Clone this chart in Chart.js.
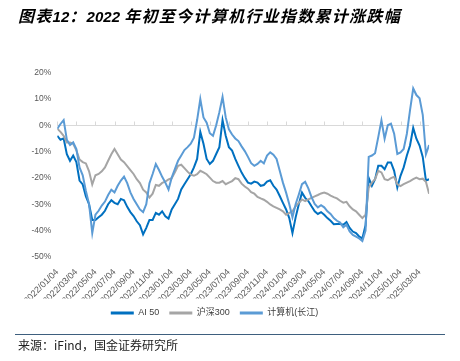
<!DOCTYPE html>
<html>
<head>
<meta charset="utf-8">
<script src="https://cdn.jsdelivr.net/npm/chart.js@4.4.1/dist/chart.umd.min.js"></script>
<style>
  html, body { margin: 0; padding: 0; background: #fff; }
  #wrap { position: relative; width: 460px; height: 361px; overflow: hidden; }
  #chart { position: absolute; left: 0; top: 0; }
  .title { position: absolute; left: 18px; top: 3px; font: italic bold 16px "Liberation Sans", "Noto Sans CJK SC", sans-serif; letter-spacing: 1.3px; color: #000; white-space: nowrap; }
  .title .n { font-size: 15px; letter-spacing: 0; }
  .rule { position: absolute; left: 15px; right: 15px; top: 334px; border-top: 1.5px solid #3e5f7e; }
  .source { position: absolute; left: 18px; top: 336px; font: 12px "Noto Sans CJK SC", sans-serif; color: #222; white-space: nowrap; }
</style>
</head>
<body>
<div id="wrap">
  <canvas id="chart" width="460" height="361"></canvas>
  <div class="title">图表<span class="n">12</span>：<span class="n">2022 </span>年初至今计算机行业指数累计涨跌幅</div>
  <div class="rule"></div>
  <div class="source">来源：iFind，国金证券研究所</div>
</div>
<script>
// x axis ticks, one every two months
const tickLabels = [
  "2022/01/04", "2022/03/04", "2022/05/04", "2022/07/04", "2022/09/04", "2022/11/04",
  "2023/01/04", "2023/03/04", "2023/05/04", "2023/07/04", "2023/09/04", "2023/11/04",
  "2024/01/04", "2024/03/04", "2024/05/04", "2024/07/04", "2024/09/04", "2024/11/04",
  "2025/01/04", "2025/03/04"
];
const STEP = 6; // samples between two tick labels

const seriesNames = ["AI 50", "沪深300", "计算机(长江)"];

// cumulative change since 2022/01/04, %
const ai50 = [
  -4, -5.5, -5, -11, -13.5, -11.5, -14, -21, -22.5, -27,
  -30, -36, -36, -35, -34, -32.5, -30, -28.5, -29.5, -30,
  -28, -28.5, -31, -33, -34.5, -36.5, -38, -41.5, -39, -36,
  -36, -33.3, -34, -32.7, -34.6, -35.5, -32, -30, -28, -24.4,
  -22.4, -20.5, -18.6, -16, -12.8, -2.5, -7, -12.8, -14.7, -13.5,
  -10.9, -8.3, 2, -4, -8.3, -9.6, -12.8, -15.4, -18, -20,
  -21.8, -22.2, -21.4, -21.8, -23, -22.7, -21.4, -20.9, -23, -24.4,
  -26.9, -29.5, -32, -35.3, -41, -35, -30, -25.6, -27.6, -28.8,
  -30.8, -32.7, -33.7, -33, -34, -35.3, -36.3, -37.6, -37.5, -37.5,
  -37.8, -36.8, -39, -40.4, -41, -42.3, -43, -38, -20, -23,
  -20.5, -15.4, -15.4, -16.7, -14.1, -14.1, -17.3, -23.7, -19.2, -16,
  -11.5, -7.7, -1, -5.1, -7.7, -12, -21, -20.5
];
const hs300 = [
  -1.3, -2.5, -4, -6.5, -6.5, -7, -9.5, -13, -14, -14.5,
  -17.5, -22.5, -19, -18.5, -17.5, -16, -13.5, -11, -9, -11,
  -13, -14, -15.5, -17, -18.5, -20.5, -22, -24.5, -25.5, -27.5,
  -26, -22.7, -23, -21.9, -21.4, -20.6, -20.1, -17.9, -15.4, -15,
  -16.3, -17.6, -18.8, -19.2, -18.6, -17.3, -17.9, -18.6, -19.9, -21.2,
  -21.8, -21.8, -21.2, -22.4, -21.8, -21.2, -20.1, -20.5, -22.2, -23.3,
  -24.1, -25.4, -26, -27.2, -27.8, -28.3, -29.1, -30.1, -30.8, -31.4,
  -32, -32.7, -34, -33.3, -32.7, -30.8, -29.5, -28.2, -28.8, -28.2,
  -27.6, -27, -26.5, -25.9, -25.6, -26, -26.7, -27.3, -27.8, -28.7,
  -29.4, -29.1, -30.8, -32, -32.7, -34, -35.3, -34, -23.7, -21.8,
  -20.5, -17.3, -17.9, -20.5, -20.9, -20.1, -19.6, -22.4, -23.1, -22.4,
  -21.8, -21.2, -20.5, -19.9, -20.5, -20.3, -21.5, -26
];
const computer = [
  -1.3, 0.5, 2, -5.5, -7.5, -6.5, -9, -16, -19, -25,
  -30, -41, -34, -32.5, -30.5, -29, -26.5, -24.5, -25.5, -23,
  -21, -19.5, -22, -25.5, -28, -30, -32, -33, -30, -22,
  -18.5, -14.7, -17, -19.6, -21.8, -24.4, -19.9, -16.7, -13.5, -11.5,
  -9.4, -8.3, -7, -4.7, 2, 10, 3, 1, -3, -4,
  0, 5, 10.8, 3, -1.5, -3.5, -5, -6, -8, -9.8,
  -12, -14.4, -15.4, -14.7, -13.5, -14.5, -11.5, -10.3, -11.2, -12.8,
  -17.3, -21.8, -25.6, -30, -35, -30, -26.3, -22.4, -21.5, -24,
  -27.3, -29.9, -31.2, -30.4, -31.2, -32.7, -33.7, -35.3, -36.3, -37,
  -38.8, -37.8, -40.4, -41.7, -42.3, -43, -44, -40, -12, -11.5,
  -10.6, -4.5, 1.9, -5.1, 0, 0.6, -3.2, -10.9, -10.3, -9,
  -3.2, 5.8, 14, 11.5, 10.3, 4, -11, -7.5
];

const colors = ["#0070c0", "#a5a5a5", "#5b9bd5"];
const FONT = '"Liberation Sans", "Noto Sans CJK SC", sans-serif';

// small marks on the 0% line at every tick
const zeroTicks = {
  id: 'zeroTicks',
  beforeDatasetsDraw(chart) {
    const { ctx, scales: { x, y } } = chart;
    const y0 = Math.round(y.getPixelForValue(0)) + 0.5;
    ctx.save();
    ctx.strokeStyle = '#d9d9d9';
    ctx.lineWidth = 1;
    x.ticks.forEach(t => {
      const px = Math.round(x.getPixelForValue(t.value)) + 0.5;
      ctx.beginPath();
      ctx.moveTo(px, y0);
      ctx.lineTo(px, y0 - 4);
      ctx.stroke();
    });
    ctx.restore();
  }
};

function toPoints(arr) {
  return arr.map((v, i) => ({ x: i, y: v }));
}

const ctx = document.getElementById('chart').getContext('2d');
new Chart(ctx, {
  type: 'line',
  data: {
    datasets: [
      { label: seriesNames[0], data: toPoints(ai50), borderColor: colors[0], backgroundColor: colors[0], order: 2 },
      { label: seriesNames[1], data: toPoints(hs300), borderColor: colors[1], backgroundColor: colors[1], order: 1 },
      { label: seriesNames[2], data: toPoints(computer), borderColor: colors[2], backgroundColor: colors[2], order: 0 }
    ]
  },
  options: {
    responsive: false,
    animation: false,
    parsing: false,
    elements: {
      point: { radius: 0 },
      line: { borderWidth: 2, tension: 0 }
    },
    layout: { padding: { top: 72.7, right: 30.9, bottom: 33.6, left: 0 } },
    scales: {
      x: {
        type: 'linear',
        min: 0,
        max: ai50.length - 1,
        afterBuildTicks: s => { s.ticks = tickLabels.map((_, k) => ({ value: k * STEP })); },
        afterFit: s => { s.height = 41.6; },
        grid: { display: false },
        border: { display: false },
        ticks: {
          autoSkip: false,
          minRotation: 45,
          maxRotation: 45,
          padding: 2,
          color: '#595959',
          font: { size: 9, family: FONT },
          callback: (v, i) => tickLabels[i]
        }
      },
      y: {
        min: -50,
        max: 20,
        afterFit: s => { s.width = 57.3; },
        border: { display: false },
        grid: {
          drawTicks: false,
          color: c => (c.tick && c.tick.value === 0 ? '#d9d9d9' : 'rgba(0,0,0,0)')
        },
        ticks: {
          stepSize: 10,
          padding: 6,
          color: '#595959',
          font: { size: 8.5, family: FONT },
          callback: v => v + '%'
        }
      }
    },
    plugins: {
      legend: {
        position: 'bottom',
        labels: {
          boxWidth: 23,
          boxHeight: 3,
          padding: 10,
          color: '#404040',
          font: { size: 9, family: FONT },
          sort: (a, b) => a.datasetIndex - b.datasetIndex,
          generateLabels: chart => Chart.defaults.plugins.legend.labels.generateLabels(chart)
            .map(l => ({ ...l, lineWidth: 0, fillStyle: l.strokeStyle }))
        }
      },
      tooltip: { enabled: false }
    }
  },
  plugins: [zeroTicks]
});
</script>
</body>
</html>
